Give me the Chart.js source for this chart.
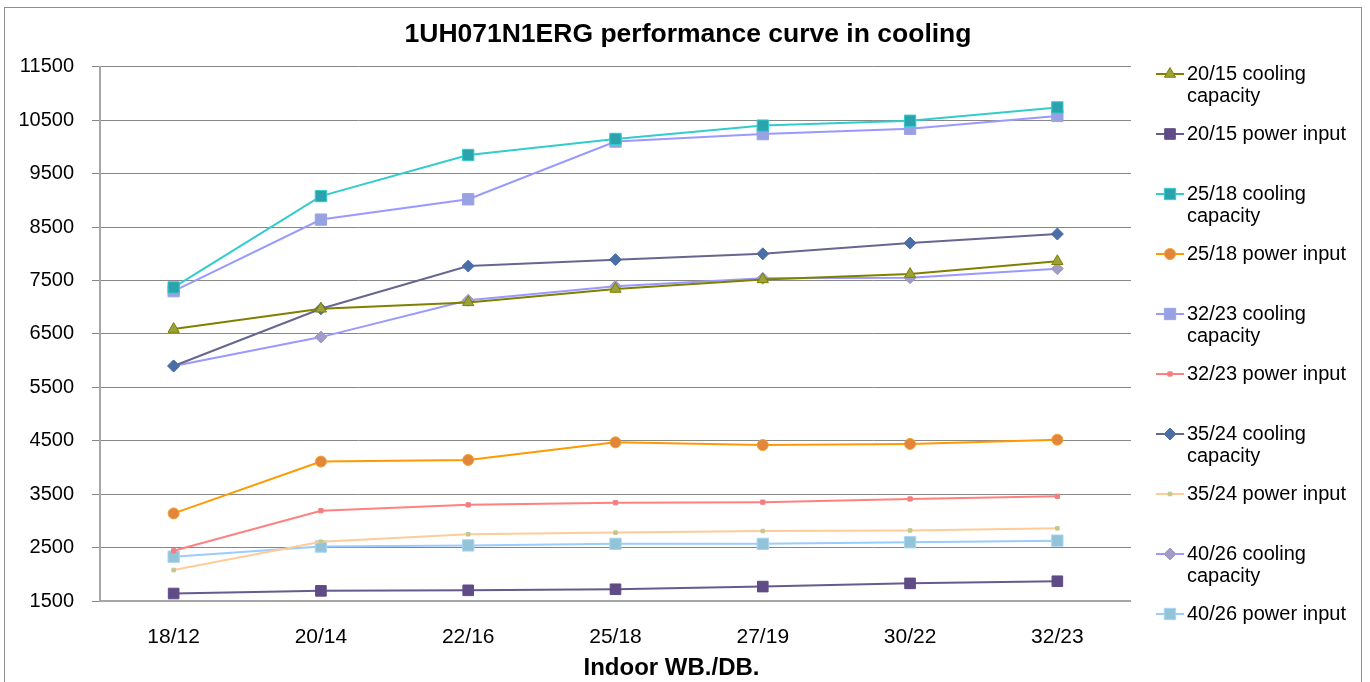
<!DOCTYPE html>
<html>
<head>
<meta charset="utf-8">
<script src="https://cdn.jsdelivr.net/npm/chart.js@4/dist/chart.umd.min.js"></script>
<style>
    html, body { margin: 0; padding: 0; background: #fff; overflow: hidden; }
    #wrap { position: relative; width: 1370px; height: 682px; }
    #frame { position: absolute; left: 4px; top: 7px; width: 1356px; height: 700px; border: 1px solid #8e8e8e; }
    canvas { position: absolute; left: 0; top: 0; }
</style>
</head>
<body>
<div id="wrap">
    <div id="frame"></div>
    <canvas id="chart" width="1370" height="682"></canvas>
</div>
<script>
/* Кривые производительности 1UH071N1ERG в режиме охлаждения */

const FONT = "'Liberation Sans', Arial, sans-serif";
const TITLE = '1UH071N1ERG performance curve in cooling';
const X_TITLE = 'Indoor WB./DB.';

const categories = ['18/12', '20/14', '22/16', '25/18', '27/19', '30/22', '32/23'];
const yTicks = { min: 1500, max: 11500, step: 1000 };

const cool2015 = [6590, 6970, 7090, 7340, 7520, 7620, 7860];
const power2015 = [1640, 1690, 1700, 1720, 1770, 1830, 1870];
const cool2518 = [7370, 9080, 9850, 10150, 10400, 10490, 10740];
const power2518 = [3140, 4110, 4140, 4470, 4420, 4440, 4520];
const cool3223 = [7300, 8640, 9020, 10100, 10240, 10340, 10580];
const power3223 = [2440, 3190, 3300, 3340, 3350, 3410, 3460];
const cool3524 = [5900, 6970, 7770, 7890, 8000, 8200, 8370];
const power3524 = [2080, 2610, 2750, 2780, 2810, 2820, 2860];
const cool4026 = [5900, 6440, 7130, 7390, 7540, 7550, 7720];
const power4026 = [2330, 2520, 2540, 2570, 2570, 2600, 2630];

// порядок как в легенде
const series = [
    { label: '20/15 cooling capacity', data: cool2015, line: '#808000', fill: '#99a33a', border: '#808000', style: 'triangle', r: 6.5 },
    { label: '20/15 power input', data: power2015, line: '#675a8e', fill: '#5f4b86', border: '#5f4b86', style: 'rect', r: 7.5 },
    { label: '25/18 cooling capacity', data: cool2518, line: '#33cccc', fill: '#2aa3ad', border: '#33cccc', style: 'rect', r: 8 },
    { label: '25/18 power input', data: power2518, line: '#ff9900', fill: '#e3853a', border: '#f0a030', style: 'circle', r: 5.5 },
    { label: '32/23 cooling capacity', data: cool3223, line: '#9999ff', fill: '#98a1e2', border: '#9aa3e8', style: 'rect', r: 8 },
    { label: '32/23 power input', data: power3223, line: '#ff8080', fill: '#f08080', border: '#f08080', style: 'rect', r: 3 },
    { label: '35/24 cooling capacity', data: cool3524, line: '#66668f', fill: '#4a6ea6', border: '#4a6ea6', style: 'rectRot', r: 6 },
    { label: '35/24 power input', data: power3524, line: '#ffcc99', fill: '#c2c88e', border: '#c2c88e', style: 'rect', r: 2.5 },
    { label: '40/26 cooling capacity', data: cool4026, line: '#9999ff', fill: '#a29bc8', border: '#a29bc8', style: 'rectRot', r: 6 },
    { label: '40/26 power input', data: power4026, line: '#99ccff', fill: '#93c3d7', border: '#a8d4f5', style: 'rect', r: 8 },
];

Chart.defaults.font.family = FONT;
Chart.defaults.color = '#000';

// значок легенды: отрезок линии с маркером посередине, как в Excel
function legendIcon(s) {
    const c = document.createElement('canvas');
    c.width = 28;
    c.height = 18;
    const g = c.getContext('2d');
    g.strokeStyle = s.line;
    g.lineWidth = 2;
    g.beginPath();
    g.moveTo(0, 9);
    g.lineTo(28, 9);
    g.stroke();
    g.fillStyle = s.fill;
    g.strokeStyle = s.border;
    g.lineWidth = 1;
    if (Chart.helpers && Chart.helpers.drawPoint) {
        Chart.helpers.drawPoint(g, { pointStyle: s.style, radius: s.r, rotation: 0, borderWidth: 1 }, 14, 9);
    } else {
        g.fillRect(14 - s.r * 0.7, 9 - s.r * 0.7, s.r * 1.4, s.r * 1.4);
    }
    return c;
}

// «cooling capacity» переносится на вторую строку, остальные — одна строка + пустая
function legendLines(label) {
    const m = label.match(/^(.*cooling) (capacity)$/);
    return m ? [m[1], m[2]] : [label, ''];
}

const icons = series.map(legendIcon);

// подпись оси X в Excel сдвинута правее центра области построения
const axisTitle = {
    id: 'axisTitle',
    afterDraw(chart) {
        const { ctx, chartArea } = chart;
        ctx.save();
        ctx.font = `bold 24px ${FONT}`;
        ctx.fillStyle = '#000';
        ctx.textAlign = 'center';
        ctx.textBaseline = 'middle';
        ctx.fillText(X_TITLE, (chartArea.left + chartArea.right) / 2 + 56, chartArea.bottom + 67);
        ctx.restore();
    },
};

new Chart(document.getElementById('chart'), {
    type: 'line',
    data: {
        labels: categories,
        datasets: series.map((s) => ({
            label: s.label,
            data: s.data,
            yAxisID: 'y',
            borderColor: s.line,
            borderWidth: 2,
            backgroundColor: s.fill,
            pointStyle: s.style,
            pointRadius: s.r,
            pointBackgroundColor: s.fill,
            pointBorderColor: s.border,
            pointBorderWidth: 1,
            tension: 0,
            fill: false,
        })),
    },
    options: {
        responsive: false,
        animation: false,
        layout: { padding: { top: 30, right: 14, bottom: 0, left: 20 } },
        plugins: {
            title: {
                display: true,
                text: TITLE,
                color: '#000',
                font: { size: 26.5, weight: 'bold' },
                padding: { top: -11, bottom: 16 },
            },
            legend: {
                position: 'right',
                align: 'center',
                labels: {
                    usePointStyle: true,
                    pointStyleWidth: 14,
                    padding: 16,
                    color: '#000',
                    font: { size: 20, lineHeight: '22px' },
                    generateLabels: (chart) => chart.data.datasets.map((ds, i) => ({
                        text: legendLines(ds.label),
                        pointStyle: icons[i],
                        datasetIndex: i,
                        hidden: false,
                        lineWidth: 0,
                        fontColor: '#000',
                    })),
                },
            },
            tooltip: { enabled: false },
        },
        scales: {
            x: {
                offset: true,
                grid: { display: false, drawTicks: false },
                border: { display: true, color: '#a6a6a6', width: 2 },
                ticks: { padding: 24, maxRotation: 0, color: '#000', font: { size: 21 } },
                afterFit(s) { s.height = 81; },
            },
            y: {
                min: yTicks.min,
                max: yTicks.max,
                grid: { color: '#878787', lineWidth: 1, drawTicks: true, tickLength: 8 },
                border: { color: '#a6a6a6', width: 2 },
                ticks: { stepSize: yTicks.step, padding: 18, color: '#000', font: { size: 20 }, callback: (v) => String(v) },
                afterFit(s) { s.width = 80; },
            },
            // пустая ось справа — зазор между областью построения и легендой
            gap: {
                type: 'linear',
                position: 'right',
                display: true,
                grid: { display: false },
                border: { display: false },
                ticks: { display: false },
                afterFit(s) { s.width = 16; },
            },
        },
    },
    plugins: [axisTitle],
});
</script>
</body>
</html>
